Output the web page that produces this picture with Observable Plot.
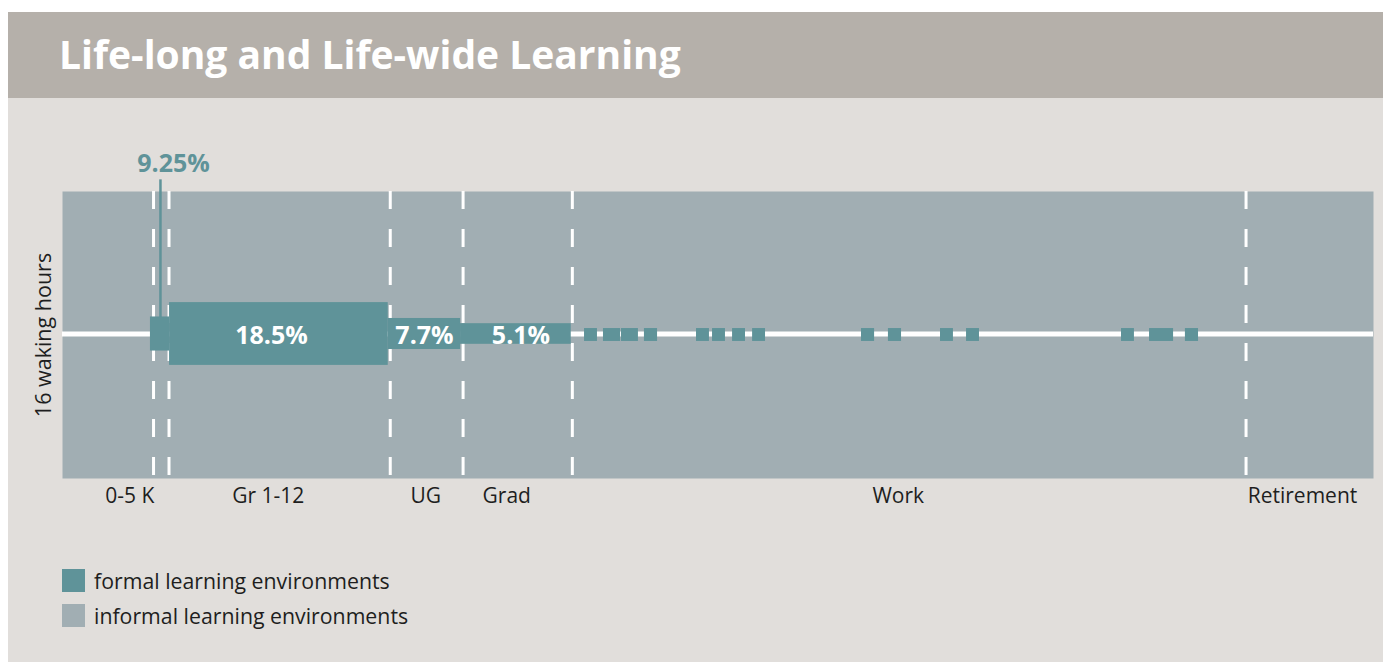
<!DOCTYPE html>
<html>
<head>
<meta charset="utf-8">
<script src="https://cdn.jsdelivr.net/npm/d3@7"></script>
<script src="https://cdn.jsdelivr.net/npm/@observablehq/plot@0.6"></script>
<style>
  html, body { margin: 0; padding: 0; background: #ffffff; width: 1383px; height: 662px; overflow: hidden; }
  #panel { position: absolute; left: 8px; top: 12px; width: 1375px; height: 650px; background: #e1dedb; }
  #titlebar { position: absolute; left: 0; top: 0; width: 1375px; height: 86px; background: #b5b0aa; }
  #title { position: absolute; left: 51px; top: 19px; margin: 0; font-family: "Open Sans", sans-serif; font-weight: 700; font-size: 39px; color: #ffffff; line-height: 1.2; }
  #chart { position: absolute; left: 0; top: 86px; }
  #legend { position: absolute; left: 54px; top: 551px; font-family: "Open Sans", sans-serif; font-size: 21.3px; color: #1e1e1e; }
  .item { display: flex; align-items: center; height: 35px; }
  .sw { width: 23px; height: 23px; margin-right: 9px; }
</style>
</head>
<body>
<div id="panel">
  <div id="titlebar"><h1 id="title">Life-long and Life-wide Learning</h1></div>
  <div id="chart"></div>
  <div id="legend"></div>
</div>
<script>
// ---- data (x in years of age, y in waking hours) ----
const stageNames = ["0-5 K", "Gr 1-12", "UG", "Grad", "Work", "Retirement"];
const stageLabelAge = [3.7, 11.3, 19.95, 24.4, 45.9, 68.1];
const boundaries = [5, 5.85, 18, 22, 28, 65];
const lifeSpan = [0, 72];
const wakingHours = 16;

const formalStage = ["0-5 K", "Gr 1-12", "UG", "Grad"];
const formalStart = [4.83, 5.88, 17.89, 21.86];
const formalEnd = [5.88, 17.89, 21.86, 27.94];
const formalHours = [1.9, 3.5, 1.73, 1.15];
const formalPct = ["9.25%", "18.5%", "7.7%", "5.1%"];
const pctLabelAge = [6.1, 11.48, 19.88, 25.18];

const workStart = [28.67, 29.71, 30.70, 31.96, 34.82, 35.70, 36.80, 37.90, 43.88, 45.36, 48.22, 49.65, 58.16, 59.70, 61.67];
const workEnd   = [29.38, 30.65, 31.63, 32.68, 35.53, 36.41, 37.51, 38.61, 44.60, 46.08, 48.93, 50.36, 58.87, 61.02, 62.39];
const workHours = 0.72;

const legendLabels = ["formal learning environments", "informal learning environments"];
const formalColor = "#5f9399";
const informalColor = "#a1aeb3";

// ---- tables built from arrays ----
const mid = wakingHours / 2;
const bars = formalStage.map((s, i) => ({stage: s, x1: formalStart[i], x2: formalEnd[i], y1: mid - formalHours[i] / 2, y2: mid + formalHours[i] / 2}));
const work = workStart.map((s, i) => ({x1: s, x2: workEnd[i], y1: mid - workHours / 2, y2: mid + workHours / 2}));
const stageLabels = stageNames.map((n, i) => ({name: n, x: stageLabelAge[i]}));
const insideLabels = formalPct.slice(1).map((p, i) => ({p, x: pctLabelAge[i + 1]}));
const kLabel = [{p: formalPct[0], x: pctLabelAge[0]}];
const leaderAge = 5.38;

const chart = Plot.plot({
  width: 1375,
  height: 444,
  marginLeft: 54,
  marginRight: 10,
  marginTop: 93,
  marginBottom: 64,
  x: {domain: lifeSpan, axis: null},
  y: {domain: [0, wakingHours], axis: null},
  style: {background: "transparent", fontFamily: "Open Sans, sans-serif", overflow: "visible"},
  marks: [
    Plot.frame({fill: informalColor, stroke: null}),
    Plot.ruleY([mid], {stroke: "#ffffff", strokeWidth: 5, dy: -1}),
    Plot.ruleX(boundaries, {stroke: "#ffffff", strokeWidth: 3, strokeDasharray: "18,20"}),
    Plot.ruleX([leaderAge], {y1: mid + formalHours[0] / 2, y2: wakingHours + 0.65, stroke: formalColor, strokeWidth: 2.5}),
    Plot.rect(bars, {x1: "x1", x2: "x2", y1: "y1", y2: "y2", fill: formalColor, dy: -1}),
    Plot.rect(work, {x1: "x1", x2: "x2", y1: "y1", y2: "y2", fill: formalColor}),
    Plot.text(insideLabels, {x: "x", y: mid, text: "p", fill: "#ffffff", fontWeight: "bold", fontSize: 25, dy: 1}),
    Plot.text(kLabel, {x: "x", y: wakingHours, text: "p", fill: formalColor, fontWeight: "bold", fontSize: 25, dy: -28}),
    Plot.text(stageLabels, {x: "x", frameAnchor: "bottom", text: "name", fill: "#1e1e1e", fontSize: 21, dy: 24}),
    Plot.text(["16 waking hours"], {frameAnchor: "left", textAnchor: "middle", text: d => d, rotate: -90, fill: "#1e1e1e", fontSize: 21.5, dx: -18})
  ]
});
document.getElementById("chart").appendChild(chart);

const legend = document.getElementById("legend");
[formalColor, informalColor].forEach((c, i) => {
  const row = document.createElement("div");
  row.className = "item";
  const sw = document.createElement("div");
  sw.className = "sw";
  sw.style.background = c;
  const t = document.createElement("span");
  t.textContent = legendLabels[i];
  row.appendChild(sw);
  row.appendChild(t);
  legend.appendChild(row);
});
</script>
</body>
</html>
